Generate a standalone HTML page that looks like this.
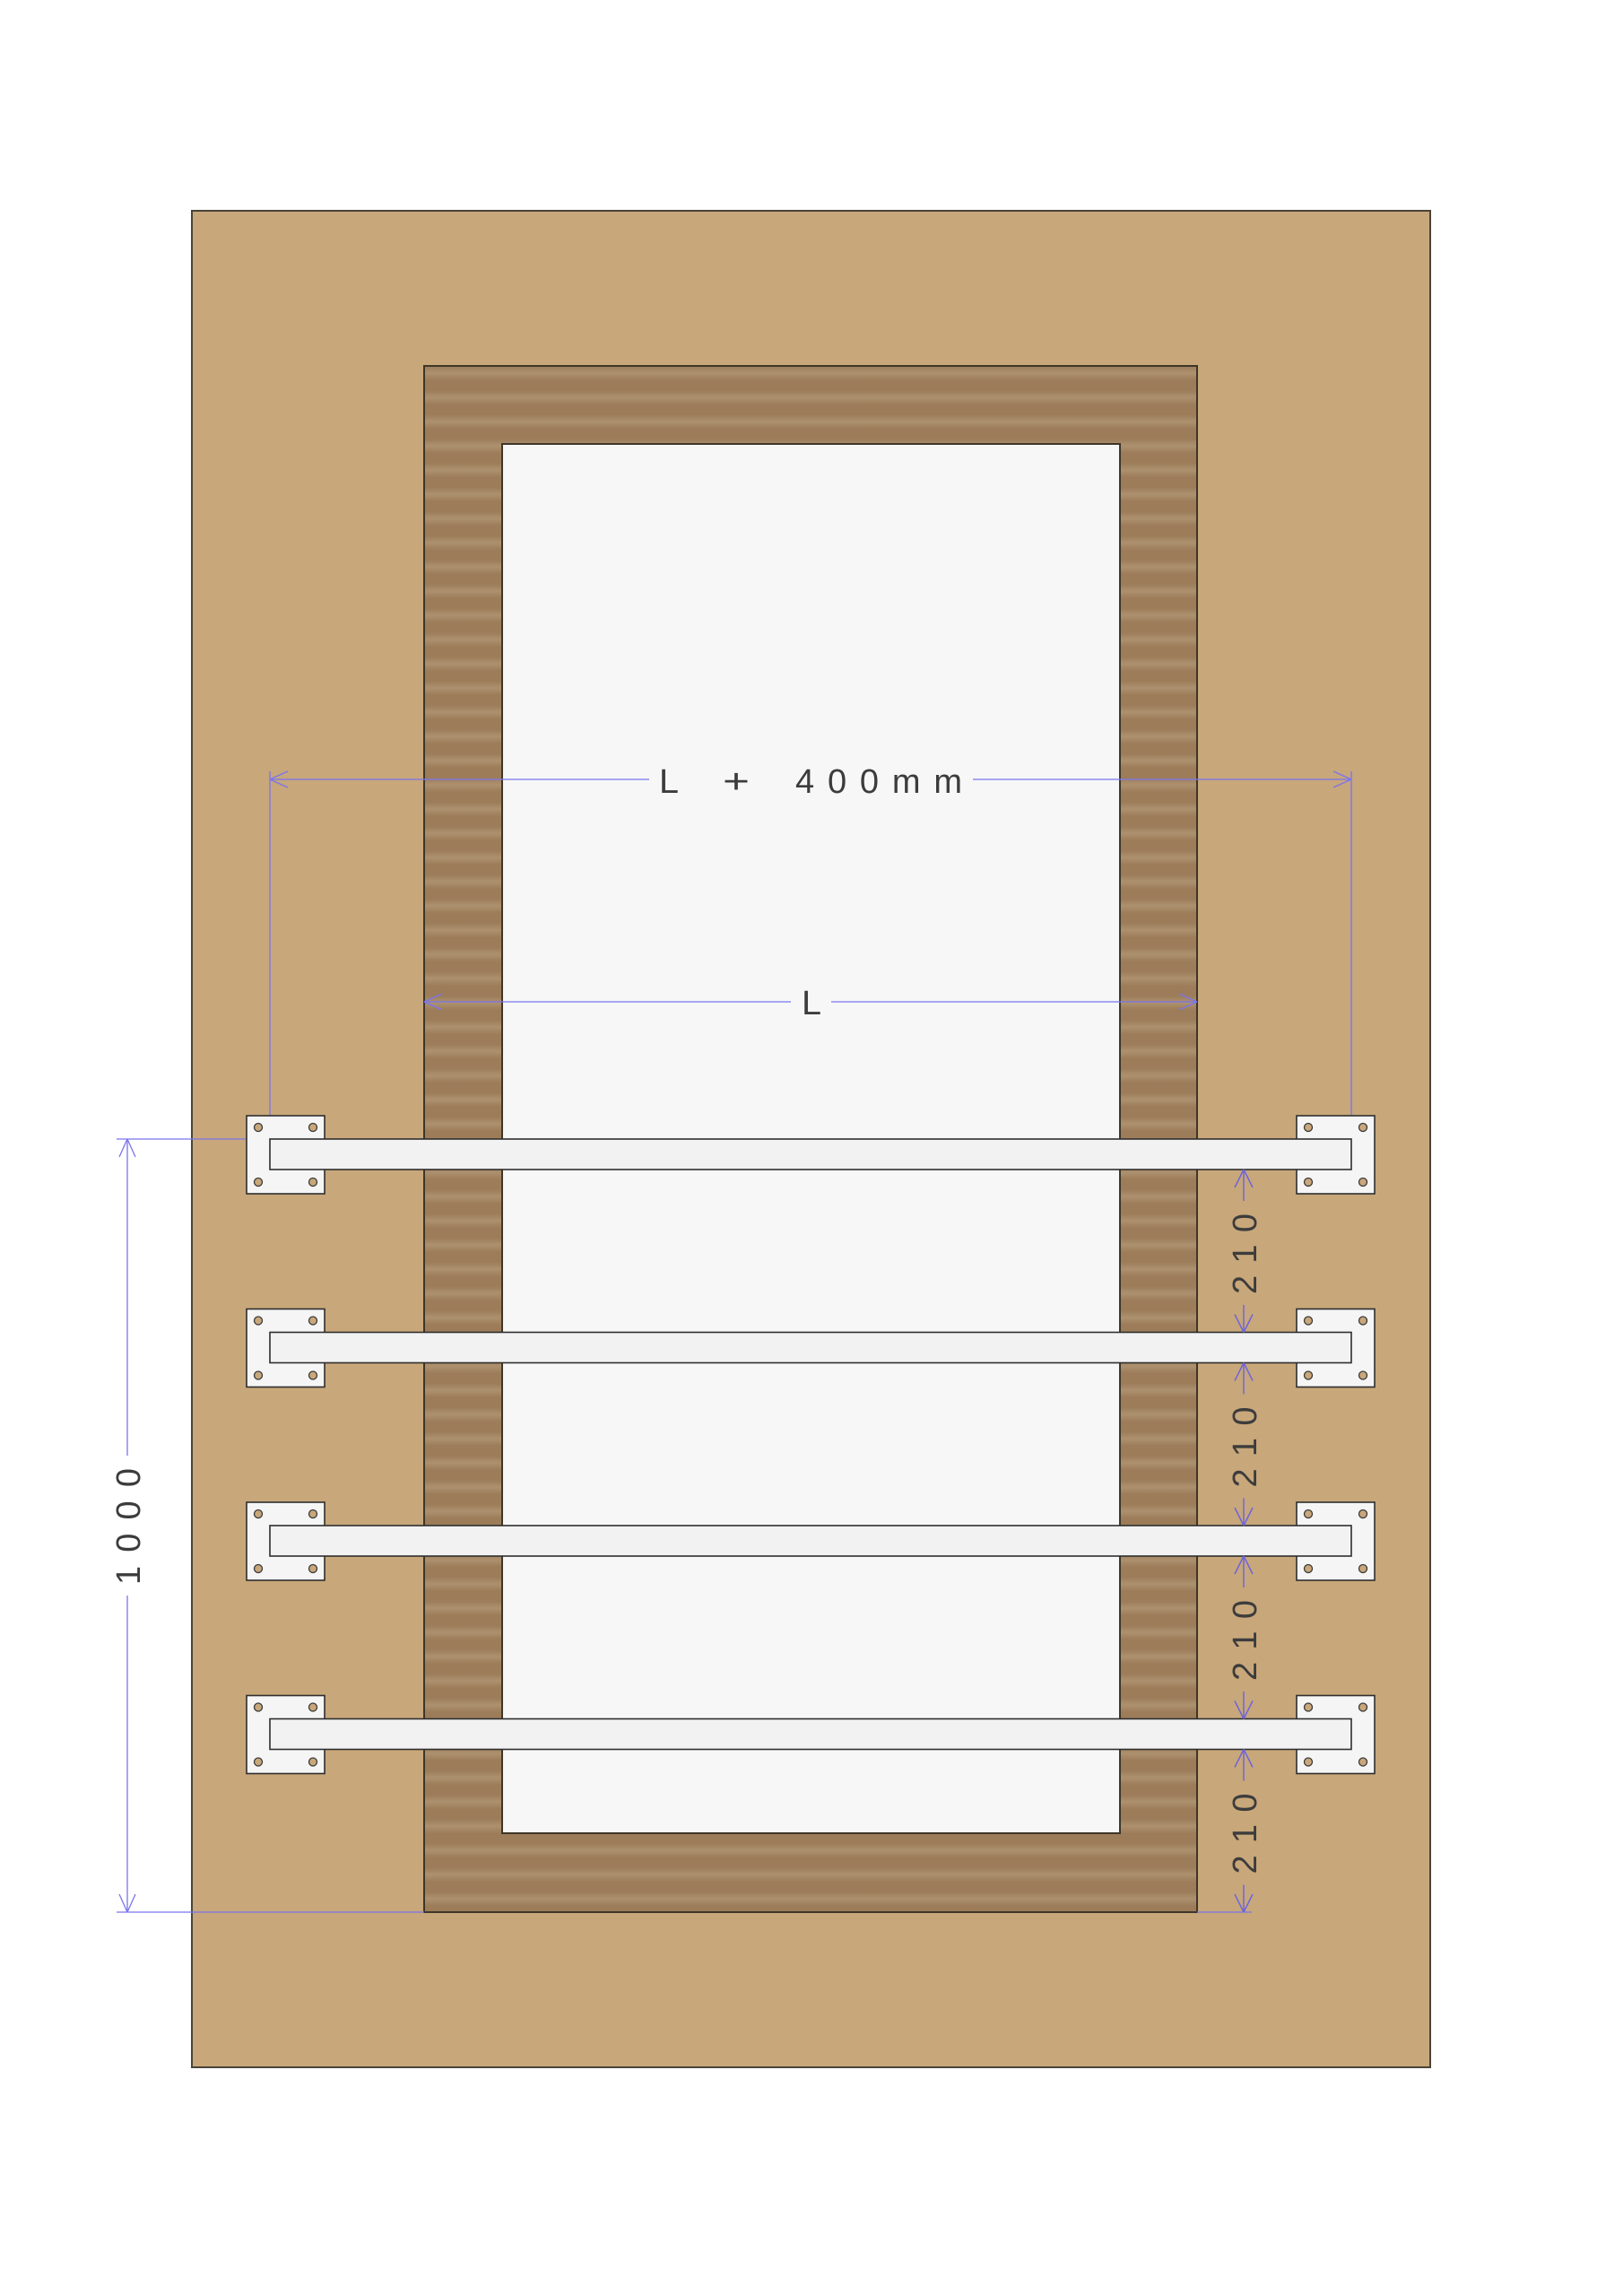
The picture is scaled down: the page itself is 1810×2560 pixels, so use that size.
<!DOCTYPE html>
<html><head><meta charset="utf-8"><style>
html,body{margin:0;padding:0;background:#fff;}
svg{display:block;}
text{font-family:"Liberation Sans",sans-serif;fill:#3c3c3c;font-weight:normal;}
</style></head><body>
<svg width="1810" height="2560" viewBox="0 0 1810 2560" xmlns="http://www.w3.org/2000/svg">
<defs>
<linearGradient id="sg" x1="0" y1="0" x2="0" y2="1">
<stop offset="0" stop-color="#9c7c59"/>
<stop offset="0.3" stop-color="#ad916f"/>
<stop offset="0.6" stop-color="#9c7c59"/>
<stop offset="1" stop-color="#9c7c59"/>
</linearGradient>
<pattern id="st" x="0" y="408" width="27" height="27" patternUnits="userSpaceOnUse">
<rect width="27" height="27" fill="url(#sg)"/>
</pattern>
</defs>
<rect x="214" y="235" width="1381" height="2070" fill="#c8a77a" stroke="#4a4338" stroke-width="2"/>
<rect x="473" y="408" width="862" height="1724" fill="url(#st)" stroke="#3e3628" stroke-width="2"/>
<rect x="560" y="495" width="689" height="1549" fill="#f7f7f7" stroke="#3e3628" stroke-width="2"/>

<g stroke="#7a74ee" stroke-width="1.3" fill="none">
<line x1="301" y1="869" x2="724" y2="869"/>
<line x1="1085" y1="869" x2="1507" y2="869"/>
<line x1="301" y1="860" x2="301" y2="1270"/>
<line x1="1507" y1="860" x2="1507" y2="1270"/>
<path d="M301,869 l20,-9 M301,869 l20,9 M1507,869 l-20,-9 M1507,869 l-20,9"/>
<line x1="473" y1="1117" x2="882" y2="1117"/>
<line x1="927" y1="1117" x2="1335" y2="1117"/>
<path d="M473,1117 l20,-9 M473,1117 l20,9 M1335,1117 l-20,-9 M1335,1117 l-20,9"/>
<line x1="130" y1="1270" x2="301" y2="1270"/>
<line x1="130" y1="2132" x2="473" y2="2132"/>
<line x1="142" y1="1270" x2="142" y2="1623"/>
<line x1="142" y1="1779" x2="142" y2="2132"/>
<path d="M142,1270 l-9,20 M142,1270 l9,20 M142,2132 l-9,-20 M142,2132 l9,-20"/>
<line x1="1335" y1="2132" x2="1396" y2="2132"/>
</g>
<text x="735" y="884" font-size="38" textLength="22" lengthAdjust="spacingAndGlyphs">L</text>
<text x="806" y="884" font-size="38" textLength="30" lengthAdjust="spacingAndGlyphs">+</text>
<text x="887" y="884" font-size="38" textLength="186" lengthAdjust="spacing">400mm</text>
<text x="894" y="1131" font-size="38" textLength="22" lengthAdjust="spacingAndGlyphs">L</text>
<text transform="translate(156,1767) rotate(-90)" font-size="38" textLength="130" lengthAdjust="spacing">1000</text>

<g id="r0">
<rect x="275" y="1244" width="87" height="87" fill="#f5f5f5" stroke="#2e2e2e" stroke-width="1.6"/>
<rect x="1446" y="1244" width="87" height="87" fill="#f5f5f5" stroke="#2e2e2e" stroke-width="1.6"/>
<g fill="#c8a77a" stroke="#3a3a3a" stroke-width="1.3">
<circle cx="288" cy="1257" r="4.5"/><circle cx="349" cy="1257" r="4.5"/>
<circle cx="288" cy="1318" r="4.5"/><circle cx="349" cy="1318" r="4.5"/>
<circle cx="1459" cy="1257" r="4.5"/><circle cx="1520" cy="1257" r="4.5"/>
<circle cx="1459" cy="1318" r="4.5"/><circle cx="1520" cy="1318" r="4.5"/>
</g>
<rect x="301" y="1270" width="1206" height="34" fill="#f2f2f2" stroke="#2e2e2e" stroke-width="1.6"/>
</g>
<use href="#r0" y="215.5"/>
<use href="#r0" y="431"/>
<use href="#r0" y="646.5"/>

<g id="d0">
<g stroke="#6a62e0" stroke-width="1.4" fill="none">
<line x1="1387" y1="1304" x2="1387" y2="1339"/>
<line x1="1387" y1="1455" x2="1387" y2="1485.5"/>
<path d="M1387,1304 l-10,20 M1387,1304 l10,20 M1387,1485.5 l-10,-20 M1387,1485.5 l10,-20"/>
</g>
<text transform="translate(1401,1443) rotate(-90)" font-size="38" textLength="90" lengthAdjust="spacing">210</text>
</g>
<use href="#d0" y="215.5"/>
<use href="#d0" y="431"/>
<use href="#d0" y="646.5"/>
</svg>
</body></html>
